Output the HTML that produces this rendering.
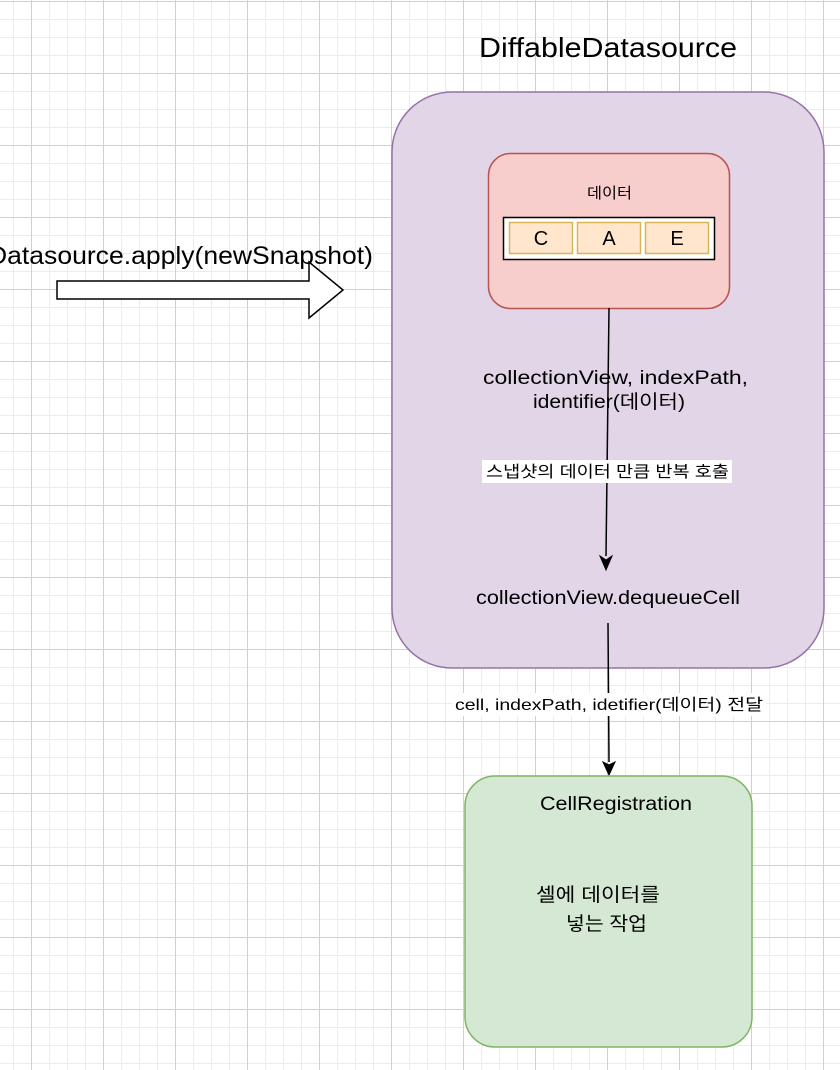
<!DOCTYPE html>
<html><head><meta charset="utf-8"><style>
body{margin:0;width:840px;height:1070px;overflow:hidden;background:#fff;font-family:"Liberation Sans","Noto Sans CJK KR",sans-serif;}
</style></head><body>
<svg width="840" height="1070" xmlns="http://www.w3.org/2000/svg" style="position:absolute;left:0;top:0">
<defs>
<pattern id="minor" x="13" y="1" width="18" height="18" patternUnits="userSpaceOnUse"><path d="M0 0.5H18M0.5 0V18" stroke="#ececec" stroke-width="1" fill="none"/></pattern>
<pattern id="major" x="31" y="1" width="72" height="72" patternUnits="userSpaceOnUse"><path d="M0 0.5H72M0.5 0V72" stroke="#d0d0d0" stroke-width="1" fill="none"/></pattern>
</defs>
<rect width="840" height="1070" fill="url(#minor)"/>
<rect width="840" height="1070" fill="url(#major)"/>
<g font-family="Liberation Sans, Noto Sans CJK KR, sans-serif">
<text x="479" y="57" font-size="28" textLength="258" lengthAdjust="spacingAndGlyphs" fill="#000">DiffableDatasource</text>
<rect x="392" y="92" width="432" height="576" rx="60" fill="#e1d5e7" stroke="#9673a6" stroke-width="1.5"/>
<rect x="488.5" y="153.5" width="241" height="155" rx="22" fill="#f8cecc" stroke="#b85450" stroke-width="1.5"/>
<text x="587" y="198" font-size="15" textLength="45" lengthAdjust="spacingAndGlyphs">데이터</text>
<rect x="503.5" y="217.5" width="211" height="42" fill="#fff" stroke="#000" stroke-width="1.5"/>
<rect x="509.5" y="222.5" width="63" height="31" fill="#ffe6cc" stroke="#d6b656" stroke-width="1.5"/>
<rect x="577.5" y="222.5" width="63" height="31" fill="#ffe6cc" stroke="#d6b656" stroke-width="1.5"/>
<rect x="645.5" y="222.5" width="63" height="31" fill="#ffe6cc" stroke="#d6b656" stroke-width="1.5"/>
<text x="541" y="245" font-size="20" text-anchor="middle">C</text>
<text x="609" y="245" font-size="20" text-anchor="middle">A</text>
<text x="677" y="245" font-size="20" text-anchor="middle">E</text>
<text x="-12" y="264" font-size="25" textLength="385" lengthAdjust="spacingAndGlyphs">Datasource.apply(newSnapshot)</text>
<path d="M57 281H309V262L343 290L309 318V299H57Z" fill="#fff" stroke="#000" stroke-width="1.5"/>
<line x1="609" y1="308" x2="606" y2="556" stroke="#000" stroke-width="1.5"/>
<path d="M600 556L606 570L612 556L606 560Z" fill="#000" stroke="#000"/>
<text x="483" y="384" font-size="19" textLength="265" lengthAdjust="spacingAndGlyphs">collectionView, indexPath,</text>
<text x="533" y="408" font-size="19" textLength="152" lengthAdjust="spacingAndGlyphs">identifier(데이터)</text>
<rect x="482" y="460" width="250" height="23" fill="#fff"/>
<text x="486" y="477" font-size="16" textLength="243" lengthAdjust="spacingAndGlyphs">스냅샷의 데이터 만큼 반복 호출</text>
<text x="476" y="604" font-size="19" textLength="264" lengthAdjust="spacingAndGlyphs">collectionView.dequeueCell</text>
<line x1="608" y1="623" x2="609" y2="762" stroke="#000" stroke-width="1.5"/>
<path d="M603 762L609 775L615 762L609 765Z" fill="#000" stroke="#000"/>
<rect x="452" y="693" width="314" height="23" fill="#fff"/>
<text x="455" y="710" font-size="16" textLength="308" lengthAdjust="spacingAndGlyphs">cell, indexPath, idetifier(데이터) 전달</text>
<rect x="465" y="776" width="287" height="271" rx="30" fill="#d5e8d4" stroke="#82b366" stroke-width="1.5"/>
<text x="540" y="810" font-size="19" textLength="152" lengthAdjust="spacingAndGlyphs">CellRegistration</text>
<text x="536" y="901" font-size="19" textLength="124" lengthAdjust="spacingAndGlyphs">셀에 데이터를</text>
<text x="566" y="930" font-size="19" textLength="81" lengthAdjust="spacingAndGlyphs">넣는 작업</text>
</g>
</svg>
</body></html>
